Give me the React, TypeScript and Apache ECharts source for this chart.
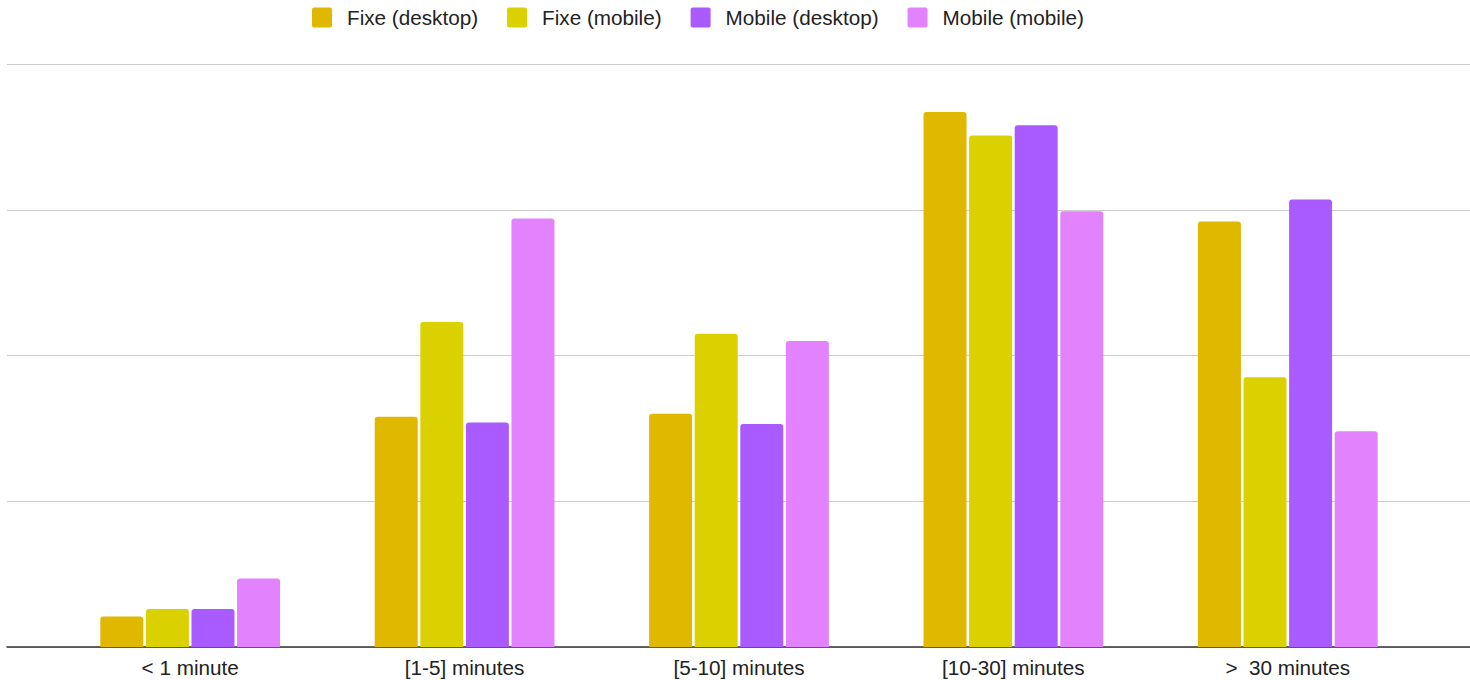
import React, { useEffect, useRef } from "react";
import * as echarts from "echarts";

const categories = ["< 1 minute", "[1-5] minutes", "[5-10] minutes", "[10-30] minutes", ">  30 minutes"];
const seriesNames = ["Fixe (desktop)", "Fixe (mobile)", "Mobile (desktop)", "Mobile (mobile)"];
const fixeDesktop = [2.1, 15.8, 16.0, 36.7, 29.2];
const fixeMobile = [2.6, 22.3, 21.5, 35.1, 18.5];
const mobileDesktop = [2.6, 15.4, 15.3, 35.8, 30.7];
const mobileMobile = [4.7, 29.4, 21.0, 29.9, 14.8];
const colors = ["#e0b800", "#dcd100", "#a95bff", "#e283fd"];

export default function App() {
  const ref = useRef<HTMLDivElement>(null);
  useEffect(() => {
    document.body.style.margin = "0";
    const chart = echarts.init(ref.current!, null, { renderer: "svg" });
    const font = "'Liberation Sans', Arial, sans-serif";
    const values = [fixeDesktop, fixeMobile, mobileDesktop, mobileMobile];
    chart.setOption({
      animation: false,
      color: colors,
      legend: {
        top: 2,
        left: 307,
        itemWidth: 20,
        itemHeight: 20,
        itemGap: 29,
        icon: "path://M2,0H18Q20,0 20,2V18Q20,20 18,20H2Q0,20 0,18V2Q0,0 2,0Z",
        textStyle: { fontFamily: font, fontSize: 20.7, color: "#222", padding: [0, 0, 0, 10] },
        data: seriesNames,
      },
      grid: [
        { left: 7, right: 0, top: 64, height: 583 },
        { left: 53, right: 45, top: 64, height: 583 },
      ],
      xAxis: [
        {
          gridIndex: 0,
          type: "value",
          min: 0,
          max: 1,
          axisLine: { show: true, lineStyle: { color: "#333", width: 1.5 } },
          axisTick: { show: false },
          axisLabel: { show: false },
          splitLine: { show: false },
        },
        {
          gridIndex: 1,
          type: "category",
          data: categories,
          axisLine: { show: false },
          axisTick: { show: false },
          axisLabel: { fontFamily: font, fontSize: 20.7, color: "#222", margin: 10 },
        },
      ],
      yAxis: [
        {
          gridIndex: 0,
          type: "value",
          min: 0,
          max: 40,
          interval: 10,
          axisLine: { show: false },
          axisTick: { show: false },
          axisLabel: { show: false },
          splitLine: { lineStyle: { color: "#cccccc", width: 1 } },
        },
        {
          gridIndex: 1,
          type: "value",
          min: 0,
          max: 40,
          interval: 10,
          show: false,
          splitLine: { show: false },
        },
      ],
      series: seriesNames.map((name, i) => ({
        name,
        type: "bar",
        xAxisIndex: 1,
        yAxisIndex: 1,
        data: values[i],
        barWidth: 43,
        barGap: "6%",
        itemStyle: { color: colors[i], borderRadius: [3, 3, 0, 0] },
      })),
    });
    return () => chart.dispose();
  }, []);
  return <div ref={ref} style={{ width: 1470, height: 680 }} />;
}
